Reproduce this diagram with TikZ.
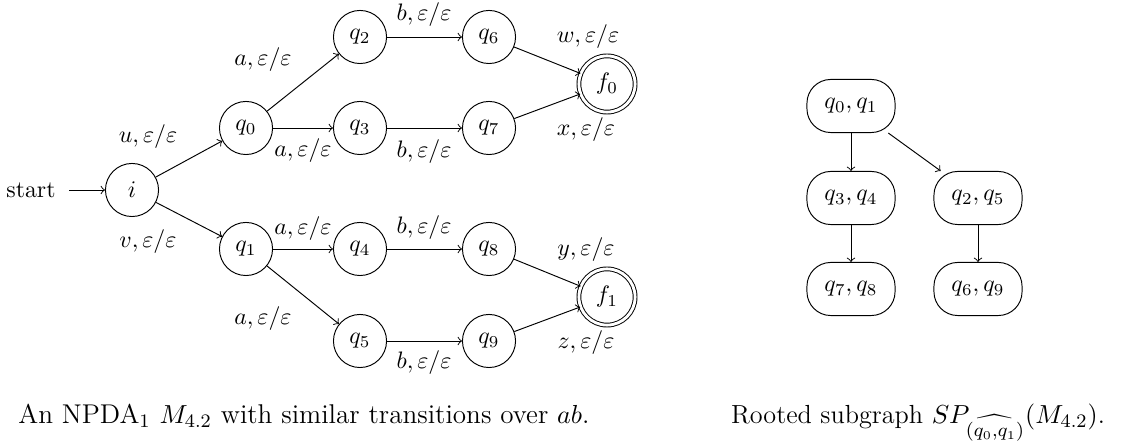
\documentclass[tikz,border=0pt]{standalone}
\begin{document}
\begin{tikzpicture}[x=0.42pt,y=-0.42pt,
  every node/.style={font=\fontsize{10}{12}\selectfont},
  st/.style={draw,circle,minimum size=22.3pt,inner sep=0pt},
  acc/.style={draw,circle,double,double distance=1.2pt,minimum size=23.6pt,inner sep=0pt},
  lbl/.style={inner sep=0pt},
  grp/.style={draw,rectangle,rounded corners=10pt,minimum width=37pt,minimum height=22.3pt,inner sep=0pt},
  tr/.style={->},
  capt/.style={anchor=base,inner sep=0pt}]
\useasboundingbox (0,0) rectangle (1127,443);

% automaton states
\node[inner sep=0pt,inner xsep=5.6pt] (start) at (31,190) {start};
\node[st] (i)  at (132,190) {$i$};
\node[st] (q0) at (246,128) {$q_0$};
\node[st] (q1) at (246,249) {$q_1$};
\node[st] (q2) at (360,37)  {$q_2$};
\node[st] (q3) at (360,128) {$q_3$};
\node[st] (q4) at (360,249) {$q_4$};
\node[st] (q5) at (360,341) {$q_5$};
\node[st] (q6) at (489,37)  {$q_6$};
\node[st] (q7) at (489,128) {$q_7$};
\node[st] (q8) at (489,249) {$q_8$};
\node[st] (q9) at (489,341) {$q_9$};
\node[acc] (f0) at (607,84)  {$f_0$};
\node[acc] (f1) at (607,297) {$f_1$};

% transitions
\draw[tr] (start) -- (i);
\draw[tr] (i) -- (q0);
\draw[tr] (i) -- (q1);
\draw[tr] (q0) -- (q2);
\draw[tr] (q0) -- (q3);
\draw[tr] (q1) -- (q4);
\draw[tr] (q1) -- (q5);
\draw[tr] (q2) -- (q6);
\draw[tr] (q3) -- (q7);
\draw[tr] (q4) -- (q8);
\draw[tr] (q5) -- (q9);
\draw[tr] (q6) -- (f0);
\draw[tr] (q7) -- (f0);
\draw[tr] (q8) -- (f1);
\draw[tr] (q9) -- (f1);

% transition labels
\node[lbl] (lu)  at (148,137) {$u,\varepsilon/\varepsilon$};
\node[lbl] (lv)  at (148,242) {$v,\varepsilon/\varepsilon$};
\node[lbl] (la1) at (263,60)  {$a,\varepsilon/\varepsilon$};
\node[lbl] (la2) at (303,151) {$a,\varepsilon/\varepsilon$};
\node[lbl] (la3) at (303,229) {$a,\varepsilon/\varepsilon$};
\node[lbl] (la4) at (263,319) {$a,\varepsilon/\varepsilon$};
\node[lbl] (lb1) at (424,15)  {$b,\varepsilon/\varepsilon$};
\node[lbl] (lb2) at (424,152) {$b,\varepsilon/\varepsilon$};
\node[lbl] (lb3) at (424,228) {$b,\varepsilon/\varepsilon$};
\node[lbl] (lb4) at (424,363) {$b,\varepsilon/\varepsilon$};
\node[lbl] (lw)  at (588,37)  {$w,\varepsilon/\varepsilon$};
\node[lbl] (lx)  at (586,130) {$x,\varepsilon/\varepsilon$};
\node[lbl] (ly)  at (586,250) {$y,\varepsilon/\varepsilon$};
\node[lbl] (lz)  at (586,343) {$z,\varepsilon/\varepsilon$};

% rooted subgraph
\node[grp] (g01) at (851,106) {$q_0,q_1$};
\node[grp] (g34) at (851,198) {$q_3,q_4$};
\node[grp] (g25) at (978,198) {$q_2,q_5$};
\node[grp] (g78) at (851,289) {$q_7,q_8$};
\node[grp] (g69) at (978,289) {$q_6,q_9$};
\draw[tr] (g01) -- (g34);
\draw[tr] (g01) -- (g25);
\draw[tr] (g34) -- (g78);
\draw[tr] (g25) -- (g69);

% captions
\node[capt,font=\fontsize{11.4}{13}\selectfont] (c1) at (304,424) {An NPDA$_1$ $M_{4.2}$ with similar transitions over $ab$.};
\node[capt,font=\fontsize{11}{13}\selectfont] (c2) at (918,424) {Rooted subgraph $SP_{\widehat{(q_0,q_1)}}(M_{4.2})$.};
\end{tikzpicture}
\end{document}
